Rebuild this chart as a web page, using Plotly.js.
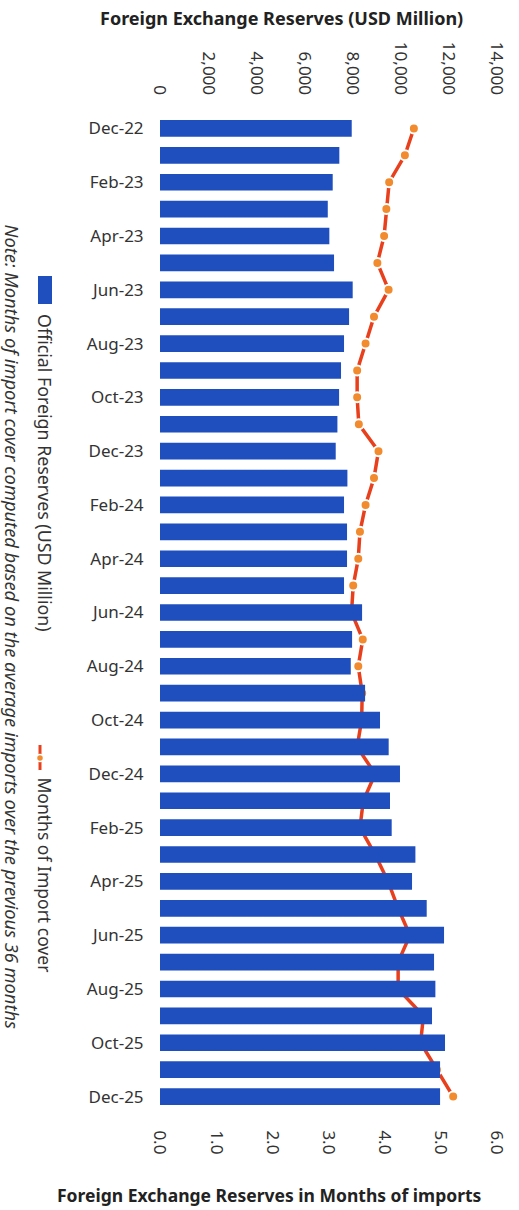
<!DOCTYPE html>
<html>
<head>
<meta charset="utf-8">
<script src="https://cdn.plot.ly/plotly-3.0.1.min.js"></script>
<style>
  html, body { margin: 0; padding: 0; background: #ffffff; }
  #chart { width: 519px; height: 1210px; }
</style>
</head>
<body>
<div id="chart"></div>
<script>
// Monthly categories, Dec-22 through Dec-25
const months = [
  "Dec-22", "Jan-23", "Feb-23", "Mar-23", "Apr-23", "May-23", "Jun-23",
  "Jul-23", "Aug-23", "Sep-23", "Oct-23", "Nov-23", "Dec-23",
  "Jan-24", "Feb-24", "Mar-24", "Apr-24", "May-24", "Jun-24",
  "Jul-24", "Aug-24", "Sep-24", "Oct-24", "Nov-24", "Dec-24",
  "Jan-25", "Feb-25", "Mar-25", "Apr-25", "May-25", "Jun-25",
  "Jul-25", "Aug-25", "Sep-25", "Oct-25", "Nov-25", "Dec-25"
];

// Official foreign reserves, USD million
const reserves = [
  7965, 7450, 7175, 6970, 7035, 7230, 8005,
  7855, 7645, 7520, 7440, 7370, 7300,
  7785, 7645, 7770, 7770, 7645, 8395,
  7980, 7925, 8520, 9140, 9500, 9970,
  9555, 9625, 10610, 10470, 11080, 11800,
  11385, 11440, 11300, 11840, 11635, 11635
];

// Months of import cover
const importCover = [
  4.52, 4.36, 4.08, 4.03, 3.99, 3.87, 4.07,
  3.81, 3.66, 3.51, 3.51, 3.54, 3.89,
  3.81, 3.66, 3.56, 3.53, 3.44, 3.41,
  3.61, 3.53, 3.60, 3.59, 3.51, 3.83,
  3.62, 3.56, 3.83, 4.06, 4.24, 4.45,
  4.24, 4.24, 4.69, 4.64, 4.93, 5.22
];

// Every second month carries a label on the category axis
const labelledMonths = months.filter((m, i) => i % 2 === 0);

const W = 519, H = 1210;
const M = { l: 160, r: 22, t: 115, b: 100 };
const px = v => (v - M.l) / (W - M.l - M.r);        // pixel x -> paper x
const py = v => 1 - (v - M.t) / (H - M.t - M.b);    // pixel y -> paper y

const FONT = "Noto Sans, Open Sans, sans-serif";
const BLUE = "#1f4fbf";
const RED = "#e8401c";
const ORANGE = "#f28a2e";

const traces = [
  {
    type: "bar",
    orientation: "h",
    name: "Official Foreign Reserves (USD Million)",
    x: reserves,
    y: months,
    xaxis: "x2",
    yaxis: "y",
    marker: { color: BLUE },
    showlegend: false,
    hoverinfo: "x+y"
  },
  {
    type: "scatter",
    mode: "lines+markers",
    name: "Months of Import cover",
    x: importCover,
    y: months,
    xaxis: "x",
    yaxis: "y",
    line: { color: RED, width: 3.5 },
    marker: { color: ORANGE, size: 10, line: { color: "#ffffff", width: 2 } },
    showlegend: false,
    hoverinfo: "x+y"
  }
];

const layout = {
  width: W,
  height: H,
  margin: M,
  paper_bgcolor: "#ffffff",
  plot_bgcolor: "#ffffff",
  font: { family: FONT, size: 14, color: "#222222" },
  bargap: 0.38,
  showlegend: false,
  xaxis: {
    range: [0, 6],
    dtick: 1,
    tick0: 0,
    tickformat: ".1f",
    tickangle: 90,
    side: "bottom",
    automargin: false,
    showgrid: false,
    zeroline: false,
    showline: false,
    ticks: "outside",
    ticklen: 16,
    tickcolor: "rgba(0,0,0,0)",
    tickfont: { family: FONT, size: 17, color: "#333333" }
  },
  xaxis2: {
    range: [0, 14000],
    dtick: 2000,
    tick0: 0,
    tickformat: ",d",
    tickangle: 90,
    side: "top",
    overlaying: "x",
    anchor: "y",
    automargin: false,
    showgrid: false,
    zeroline: false,
    showline: false,
    ticks: "outside",
    ticklen: 13,
    tickcolor: "rgba(0,0,0,0)",
    tickfont: { family: FONT, size: 17, color: "#333333" }
  },
  yaxis: {
    type: "category",
    categoryorder: "array",
    categoryarray: months,
    range: [months.length - 0.5, -0.5],
    autorange: false,
    tickvals: labelledMonths,
    ticktext: labelledMonths,
    automargin: false,
    showgrid: false,
    zeroline: false,
    showline: false,
    ticks: "outside",
    ticklen: 12,
    tickcolor: "rgba(0,0,0,0)",
    tickfont: { family: FONT, size: 17, color: "#333333" }
  },
  annotations: [
    {
      text: "<b>Foreign Exchange Reserves (USD Million)</b>",
      xref: "paper", yref: "paper", x: px(281), y: py(18),
      xanchor: "center", yanchor: "middle", showarrow: false,
      font: { family: FONT, size: 18, color: "#222222" }
    },
    {
      text: "<b>Foreign Exchange Reserves in Months of imports</b>",
      xref: "paper", yref: "paper", x: px(269), y: py(1195),
      xanchor: "center", yanchor: "middle", showarrow: false,
      font: { family: FONT, size: 17.5, color: "#222222" }
    },
    {
      text: "Official Foreign Reserves (USD Million)",
      xref: "paper", yref: "paper", x: px(45), y: py(312),
      xanchor: "center", yanchor: "top", textangle: 90, showarrow: false,
      font: { family: FONT, size: 17.8, color: "#333333" }
    },
    {
      text: "Months of Import cover",
      xref: "paper", yref: "paper", x: px(45), y: py(775),
      xanchor: "center", yanchor: "top", textangle: 90, showarrow: false,
      font: { family: FONT, size: 17.5, color: "#333333" }
    },
    {
      text: "<i>Note: Months of import cover computed based on the average imports over the previous 36 months</i>",
      xref: "paper", yref: "paper", x: px(12), y: py(222),
      xanchor: "center", yanchor: "top", textangle: 90, showarrow: false,
      font: { family: FONT, size: 18.3, color: "#333333" }
    }
  ],
  shapes: [
    // legend key: bar
    {
      type: "rect", xref: "paper", yref: "paper",
      x0: px(38), x1: px(52), y0: py(276), y1: py(304),
      fillcolor: BLUE, line: { width: 0 }
    },
    // legend key: line with marker
    {
      type: "line", xref: "paper", yref: "paper",
      x0: px(40), x1: px(40), y0: py(745), y1: py(770),
      line: { color: RED, width: 3 }
    },
    {
      type: "circle", xref: "paper", yref: "paper",
      x0: px(36.5), x1: px(43.5), y0: py(754.5), y1: py(761.5),
      fillcolor: ORANGE, line: { color: "#ffffff", width: 1.5 }
    }
  ]
};

Plotly.newPlot("chart", traces, layout, { displayModeBar: false, staticPlot: true });
</script>
</body>
</html>
